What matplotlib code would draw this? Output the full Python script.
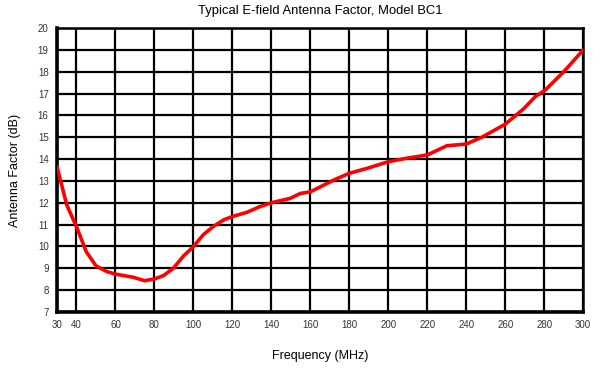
import matplotlib.pyplot as plt

plt.rcParams['font.family'] = ['Liberation Sans', 'DejaVu Sans']

freq = [30, 35, 40, 45, 50, 55.5, 60, 69, 75, 80, 84.6, 89.7, 95, 100, 105, 110,
        115.4, 120, 127.4, 134, 140, 149.6, 155, 160, 172, 180, 190, 200, 209.5,
        220, 230, 240, 248, 260, 269.4, 275.4, 280.5, 290, 300]
af = [13.65, 11.9, 10.9, 9.76, 9.11, 8.85, 8.73, 8.59, 8.43, 8.51, 8.66, 9.0,
      9.57, 9.99, 10.53, 10.9, 11.21, 11.37, 11.56, 11.82, 12.0, 12.2, 12.43,
      12.5, 13.04, 13.35, 13.6, 13.88, 14.04, 14.19, 14.61, 14.69, 15.0, 15.6,
      16.3, 16.86, 17.16, 18.0, 19.0]
xticks = [30, 40, 60, 80, 100, 120, 140, 160, 180, 200, 220, 240, 260, 280, 300]
yticks = list(range(7, 21))

fig = plt.figure(figsize=(6, 3.7), dpi=100)
ax = fig.add_axes([0.095, 0.157, 0.877, 0.767])
ax.plot(freq, af, color='#ff0000', lw=2.6, solid_capstyle='round', zorder=3)
ax.set_xlim(30, 300)
ax.set_ylim(7, 20)
ax.set_xticks(xticks)
ax.set_yticks(yticks)
ax.grid(True, color='black', lw=1.6)
ax.tick_params(length=0, labelsize=7, colors='#333333', pad=6)
for s in ax.spines.values():
    s.set_linewidth(1.8)
ax.spines['left'].set_linewidth(2.6)
ax.spines['bottom'].set_linewidth(2.6)
ax.set_title('Typical E-field Antenna Factor, Model BC1', fontsize=9.4, pad=10)
ax.set_xlabel('Frequency (MHz)', fontsize=9, labelpad=14)
ax.set_ylabel('Antenna Factor (dB)', fontsize=9, labelpad=12)
fig.savefig('out.png', dpi=100)
